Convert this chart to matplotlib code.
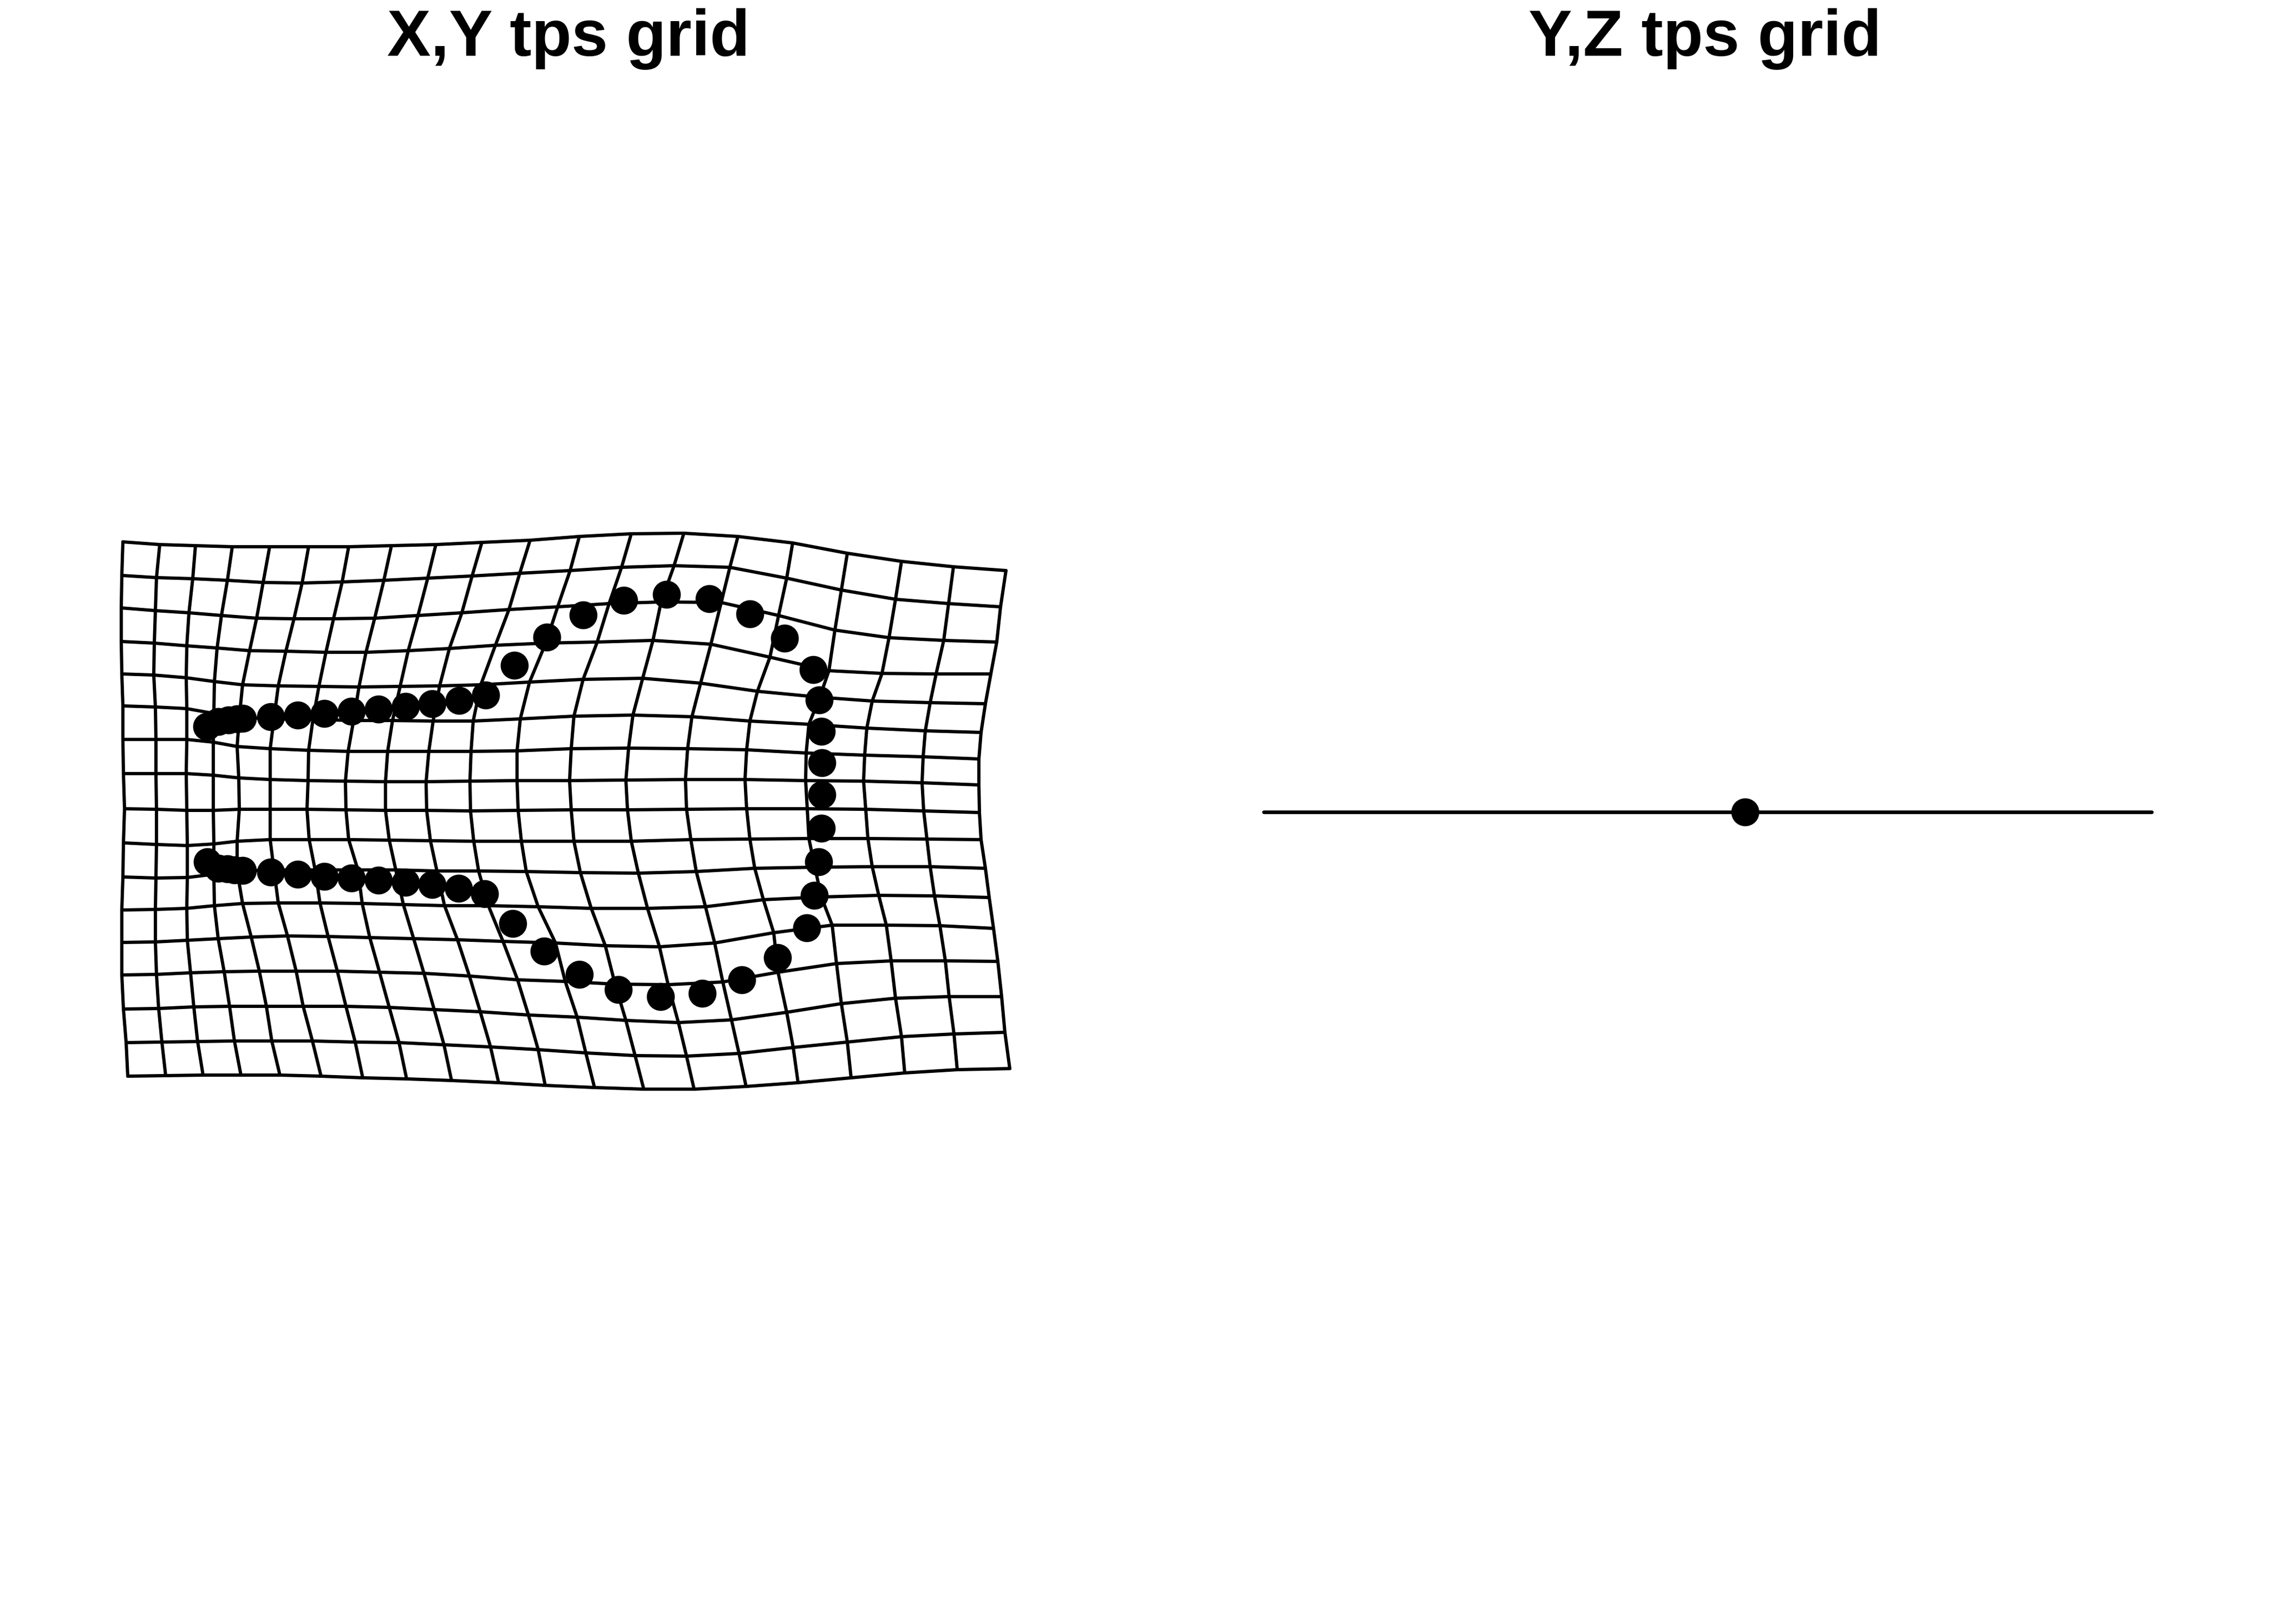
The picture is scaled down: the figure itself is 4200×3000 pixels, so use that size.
import matplotlib

matplotlib.use('Agg')
import matplotlib.pyplot as plt
import numpy as np

plt.rcParams['font.family'] = ['Liberation Sans', 'DejaVu Sans']

# warped grid vertices, one row per horizontal grid line, top to bottom
grid_x = [
    [227, 295, 361, 429, 498, 570, 644, 723, 805, 890, 979, 1070, 1166, 1263, 1363, 1464, 1565, 1665, 1761, 1858],
    [225, 289, 356, 420, 486, 558, 632, 709, 790, 872, 960, 1053, 1148, 1245, 1348, 1453, 1554, 1654, 1752, 1848],
    [224, 287, 349, 409, 474, 543, 616, 692, 772, 853, 940, 1030, 1125, 1221, 1332, 1438, 1542, 1642, 1743, 1841],
    [224, 285, 345, 401, 461, 528, 602, 676, 754, 830, 915, 1008, 1103, 1206, 1313, 1422, 1531, 1629, 1729, 1830],
    [225, 284, 344, 396, 448, 514, 589, 663, 739, 812, 888, 978, 1077, 1187, 1294, 1399, 1514, 1611, 1718, 1820],
    [227, 287, 345, 395, 442, 506, 578, 653, 725, 800, 874, 961, 1060, 1169, 1278, 1385, 1494, 1601, 1709, 1812],
    [227, 288, 345, 394, 438, 499, 570, 643, 716, 792, 870, 955, 1055, 1161, 1270, 1379, 1489, 1597, 1705, 1808],
    [228, 288, 344, 394, 441, 499, 569, 638, 712, 787, 868, 955, 1052, 1156, 1266, 1376, 1488, 1595, 1703, 1808],
    [230, 289, 345, 394, 442, 499, 567, 639, 712, 788, 869, 957, 1055, 1159, 1268, 1379, 1491, 1599, 1706, 1809],
    [228, 289, 346, 395, 438, 499, 571, 644, 719, 795, 875, 963, 1060, 1166, 1276, 1385, 1494, 1603, 1712, 1812],
    [227, 288, 346, 395, 438, 506, 582, 661, 731, 807, 884, 972, 1072, 1179, 1286, 1394, 1505, 1611, 1718, 1820],
    [225, 287, 345, 396, 448, 514, 591, 669, 745, 821, 902, 994, 1092, 1196, 1303, 1410, 1517, 1623, 1726, 1827],
    [225, 287, 346, 403, 464, 531, 606, 683, 764, 845, 929, 1026, 1118, 1218, 1320, 1429, 1537, 1637, 1736, 1835],
    [225, 289, 352, 414, 479, 547, 623, 701, 783, 867, 956, 1044, 1136, 1234, 1335, 1437, 1545, 1646, 1746, 1843],
    [228, 293, 358, 424, 492, 560, 639, 719, 802, 887, 976, 1066, 1156, 1253, 1351, 1453, 1554, 1654, 1753, 1850],
    [233, 299, 365, 433, 502, 577, 656, 737, 820, 906, 994, 1082, 1173, 1268, 1365, 1465, 1565, 1665, 1762, 1856],
    [236, 306, 375, 445, 517, 593, 670, 751, 834, 921, 1007, 1098, 1189, 1282, 1378, 1474, 1572, 1671, 1768, 1865],
]
grid_y = [
    [1001, 1006, 1008, 1010, 1010, 1010, 1010, 1008, 1006, 1002, 998, 991, 986, 985, 991, 1003, 1022, 1037, 1047, 1054],
    [1063, 1067, 1069, 1072, 1076, 1077, 1075, 1072, 1068, 1064, 1059, 1054, 1048, 1045, 1048, 1068, 1090, 1107, 1115, 1121],
    [1123, 1128, 1132, 1137, 1142, 1143, 1143, 1142, 1137, 1132, 1126, 1121, 1115, 1112, 1113, 1137, 1164, 1178, 1183, 1186],
    [1185, 1188, 1193, 1197, 1202, 1203, 1205, 1205, 1202, 1198, 1192, 1188, 1186, 1183, 1190, 1214, 1239, 1244, 1245, 1245],
    [1245, 1247, 1252, 1259, 1265, 1267, 1268, 1269, 1268, 1267, 1265, 1260, 1255, 1253, 1262, 1277, 1288, 1295, 1298, 1300],
    [1304, 1306, 1309, 1318, 1325, 1328, 1329, 1331, 1331, 1332, 1332, 1328, 1323, 1321, 1324, 1332, 1338, 1345, 1350, 1353],
    [1366, 1366, 1366, 1371, 1379, 1383, 1386, 1388, 1388, 1388, 1388, 1387, 1383, 1382, 1383, 1385, 1391, 1395, 1398, 1402],
    [1429, 1429, 1429, 1432, 1437, 1440, 1442, 1443, 1444, 1444, 1443, 1442, 1442, 1441, 1440, 1440, 1442, 1443, 1446, 1450],
    [1494, 1495, 1497, 1497, 1495, 1495, 1495, 1496, 1497, 1497, 1498, 1497, 1496, 1496, 1495, 1494, 1494, 1495, 1498, 1501],
    [1557, 1560, 1562, 1559, 1554, 1551, 1551, 1551, 1552, 1553, 1554, 1554, 1554, 1554, 1551, 1550, 1549, 1549, 1550, 1551],
    [1620, 1622, 1621, 1615, 1609, 1607, 1607, 1607, 1607, 1609, 1609, 1610, 1612, 1613, 1610, 1604, 1602, 1601, 1601, 1604],
    [1681, 1680, 1678, 1673, 1669, 1668, 1668, 1669, 1671, 1673, 1673, 1675, 1678, 1678, 1675, 1662, 1657, 1654, 1655, 1658],
    [1741, 1740, 1737, 1734, 1731, 1729, 1730, 1732, 1734, 1736, 1739, 1742, 1747, 1749, 1742, 1723, 1709, 1709, 1710, 1715],
    [1801, 1800, 1797, 1795, 1794, 1794, 1794, 1796, 1798, 1803, 1810, 1813, 1818, 1819, 1814, 1796, 1780, 1775, 1775, 1776],
    [1864, 1863, 1860, 1859, 1859, 1859, 1859, 1861, 1865, 1869, 1875, 1879, 1885, 1889, 1884, 1870, 1854, 1844, 1841, 1841],
    [1926, 1925, 1924, 1923, 1923, 1923, 1925, 1926, 1930, 1934, 1939, 1945, 1950, 1951, 1946, 1935, 1925, 1915, 1910, 1907],
    [1988, 1987, 1986, 1986, 1986, 1988, 1991, 1993, 1996, 2000, 2005, 2009, 2012, 2012, 2007, 2000, 1991, 1982, 1976, 1974],
]

# landmarks on the x,y panel
land_x = [382, 403, 422, 438, 448, 500, 550, 599, 649, 699, 749, 798, 848, 897, 950, 1010,
          1077, 1152, 1231, 1310, 1385, 1449, 1502, 1513, 1517, 1518, 1518,
          1517, 1512, 1504, 1490, 1436, 1370, 1297, 1220, 1142, 1070, 1005, 947, 895,
          847, 798, 749, 699, 649, 599, 550, 500, 448, 433, 420, 403, 383]
land_y = [1342, 1333, 1330, 1328, 1327, 1324, 1321, 1318, 1314, 1310, 1305, 1300, 1294, 1284, 1229, 1177,
          1136, 1109, 1098, 1106, 1134, 1179, 1237, 1293, 1351, 1409, 1468,
          1530, 1592, 1654, 1714, 1769, 1810, 1835, 1841, 1828, 1800, 1757, 1706, 1651,
          1641, 1634, 1630, 1626, 1622, 1619, 1615, 1611, 1608, 1607, 1605, 1604, 1592]

# collapsed y,z grid: a single line and one point
yz_line_x = [2334, 3974]
yz_line_y = [1500, 1500]
yz_point_x = [3223]
yz_point_y = [1500]

titles = ["X,Y tps grid", "Y,Z tps grid"]


def main():
    fig = plt.figure(figsize=(14, 10), dpi=300)
    ax = fig.add_axes([0, 0, 1, 1])
    ax.set_xlim(0, 4200)
    ax.set_ylim(3000, 0)
    ax.axis("off")

    gx = np.array(grid_x)
    gy = np.array(grid_y)
    ax.plot(gx.T, gy.T, color="black", linewidth=1.45, solid_joinstyle="round", solid_capstyle="round")
    ax.plot(gx, gy, color="black", linewidth=1.45, solid_joinstyle="round", solid_capstyle="round")
    ax.scatter(land_x, land_y, s=154, color="black", linewidths=0, zorder=3)

    ax.plot(yz_line_x, yz_line_y, color="black", linewidth=1.6, solid_capstyle="round")
    ax.scatter(yz_point_x, yz_point_y, s=154, color="black", linewidths=0, zorder=3)

    ax.text(1050, 103, titles[0], fontsize=29, fontweight="bold", ha="center", va="baseline")
    ax.text(3149, 103, titles[1], fontsize=29, fontweight="bold", ha="center", va="baseline")

    fig.savefig("out.png", dpi=300)


if __name__ == "__main__":
    main()
